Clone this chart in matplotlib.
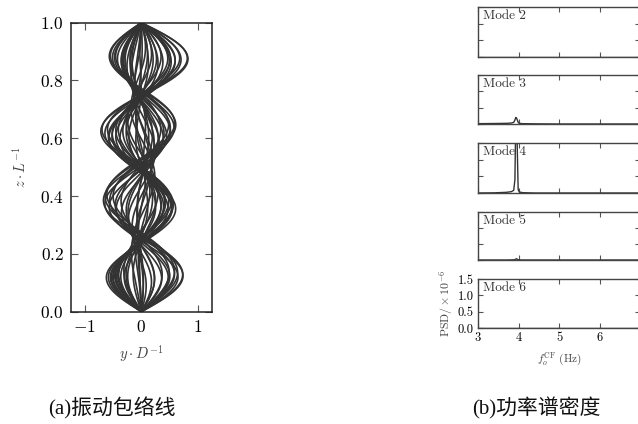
import numpy as np
import matplotlib
matplotlib.use("Agg")
import matplotlib.pyplot as plt

plt.rcParams["font.family"] = ["cmr10", "DejaVu Serif"]
plt.rcParams["mathtext.fontset"] = "cm"
plt.rcParams["axes.formatter.use_mathtext"] = True

# modal coefficients of the response snapshots (modes 3, 4, 5)
a3 = [0.12, 0.10, 0.05, -0.01, -0.07, -0.12, -0.14, -0.11, -0.06, 0.01,
      0.07, 0.11, 0.13, 0.10, 0.04, -0.02, -0.08, -0.11, -0.12, -0.09,
      -0.04, 0.03, 0.08, 0.12, 0.13, 0.09, 0.03, -0.04, -0.09, -0.13,
      -0.11, -0.07, -0.01, 0.05, 0.10, 0.13, 0.11, 0.06, 0.00, -0.06]
a4 = [0.62, 0.58, 0.50, 0.40, 0.27, 0.13, -0.02, -0.17, -0.31, -0.44,
      -0.54, -0.61, -0.64, -0.60, -0.52, -0.41, -0.28, -0.14, 0.01, 0.16,
      0.30, 0.43, 0.53, 0.60, 0.56, 0.47, 0.35, 0.21, 0.06, -0.09,
      -0.24, -0.37, -0.48, -0.57, -0.55, -0.45, -0.33, -0.19, -0.04, 0.10]
a5 = [0.00, 0.07, 0.11, 0.09, 0.03, -0.05, -0.10, -0.10, -0.05, 0.02,
      0.08, 0.11, 0.07, 0.01, -0.07, -0.11, -0.09, -0.03, 0.05, 0.10,
      0.10, 0.05, -0.02, -0.08, -0.11, -0.07, -0.01, 0.06, 0.10, 0.09,
      0.04, -0.04, -0.10, -0.10, -0.05, 0.03, 0.09, 0.11, 0.07, -0.01]

# PSD of modal amplitudes (x 1e-6)
freq = [3.0, 3.4, 3.7, 3.82, 3.88, 3.91, 3.93, 3.95, 3.97, 3.99, 4.02, 4.1, 4.4, 5.0, 6.0, 7.0]
psd = {
    "Mode 2": [0, 0, 0, 0, 0, 0, 0, 0, 0, 0, 0, 0, 0, 0, 0, 0],
    "Mode 3": [0.01, 0.015, 0.02, 0.03, 0.05, 0.12, 0.2, 0.18, 0.12, 0.05, 0.02, 0.01, 0.005, 0, 0, 0],
    "Mode 4": [0.0, 0.005, 0.02, 0.04, 0.08, 0.4, 2.2, 2.6, 1.2, 0.1, 0.03, 0.01, 0.0, 0, 0, 0],
    "Mode 5": [0, 0, 0, 0.003, 0.006, 0.01, 0.03, 0.04, 0.02, 0.01, 0.003, 0, 0, 0, 0, 0],
    "Mode 6": [0, 0, 0, 0, 0, 0, 0, 0, 0, 0, 0, 0, 0, 0, 0, 0],
}
xtick_labels = ["3", "4", "5", "6", ""]

W, H = 638, 424
fig = plt.figure(figsize=(W / 100, H / 100), dpi=100)
LC = "#333333"

def box(x0, y0, x1, y1):
    return [x0 / W, 1 - y1 / H, (x1 - x0) / W, (y1 - y0) / H]

# (a) envelope
ax = fig.add_axes(box(70.7, 22.7, 212, 311.7))
z = np.linspace(0, 1, 300)
for c3, c4, c5 in zip(a3, a4, a5):
    y = c3 * np.sin(3 * np.pi * z) + c4 * np.sin(4 * np.pi * z) + c5 * np.sin(5 * np.pi * z)
    ax.plot(y, z, color=LC, lw=1.2)
ax.set_xlim(-1.25, 1.25)
ax.set_ylim(0, 1)
ax.set_xticks([-1, 0, 1])
ax.set_yticks([0, 0.2, 0.4, 0.6, 0.8, 1.0])
ax.tick_params(direction="in", top=True, right=True, length=5, labelsize=12.5,
               color="#555555", pad=5)
for s in ax.spines.values():
    s.set_linewidth(1.1)
    s.set_color("#222222")
ax.set_xlabel(r"$y\cdot D^{-1}$", fontsize=10.5, color="#444444", labelpad=6)
ax.set_ylabel(r"$z\cdot L^{-1}$", fontsize=10.5, color="#444444", labelpad=8)

# (b) PSD panels
rows = [(7, 57), (75, 124), (143, 193), (212, 260), (279, 328)]
for i, (name, (t, b)) in enumerate(zip(psd, rows)):
    bx = fig.add_axes(box(478, t, 640.3, b))
    bx.plot(freq, psd[name], color=LC, lw=1.0)
    bx.set_xlim(3, 7)
    bx.set_ylim(0, 1.5)
    bx.set_xticks([3, 4, 5, 6, 7])
    bx.set_yticks([0, 0.5, 1.0, 1.5])
    bx.tick_params(direction="in", top=True, right=True, length=3.5, labelsize=9,
                   color="#555555", pad=3)
    for s in bx.spines.values():
        s.set_linewidth(1.0)
        s.set_color("#444444")
    bx.text(0.03, 0.95, name, transform=bx.transAxes, fontsize=9.5, va="top", ha="left",
            color="#333333")
    if i < len(psd) - 1:
        bx.tick_params(labelbottom=False, labelleft=False)
    else:
        bx.set_xticklabels(xtick_labels)
        bx.set_yticklabels(["0.0", "0.5", "1.0", "1.5"])
        bx.set_xlabel(r"$f_o^{\rm CF}$ (Hz)", fontsize=8, color="#444444", labelpad=4)
        bx.set_ylabel(r"PSD$/\times10^{-6}$", fontsize=8.5, color="#444444", labelpad=2)

cap = ["Liberation Serif", "Noto Sans CJK SC"]
fig.text(112 / W, 1 - 408 / H, "(a)振动包络线", family=cap, fontsize=15,
         ha="center", va="center", color="#111111")
fig.text(536 / W, 1 - 408 / H, "(b)功率谱密度", family=cap, fontsize=15,
         ha="center", va="center", color="#111111")

fig.savefig("out.png", dpi=100, facecolor="white")
